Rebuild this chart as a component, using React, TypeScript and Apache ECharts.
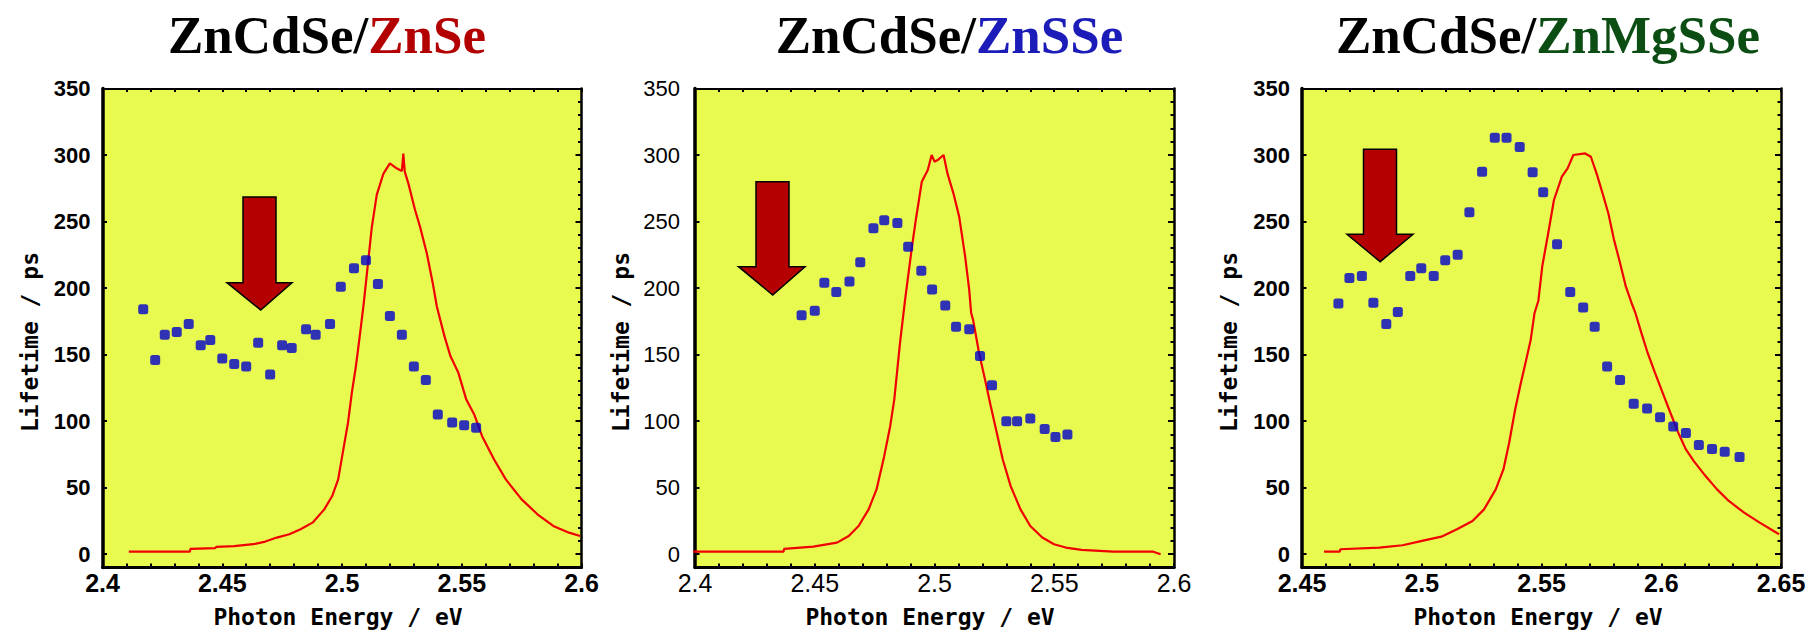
import { useEffect, useRef } from 'react';
import * as echarts from 'echarts';

// ---- text ----
const titleWell = 'ZnCdSe/';
const barrierNames = ['ZnSe', 'ZnSSe', 'ZnMgSSe'];
const xAxisName = 'Photon Energy / eV';
const yAxisName = 'Lifetime / ps';

// ---- axis ranges (eV, ps) ----
const energyRanges: [number, number][] = [
  [2.4, 2.6],
  [2.4, 2.6],
  [2.45, 2.65],
];
const lifetimeMax = 350;
const lifetimeFloor = -10;

// ---- ZnCdSe/ZnSe : lifetime points [eV, ps] ----
const znseLifetime: [number, number][] = [
  [2.417, 184], [2.422, 146], [2.426, 165], [2.431, 167], [2.436, 173],
  [2.441, 157], [2.445, 161], [2.45, 147], [2.455, 143], [2.46, 141],
  [2.465, 159], [2.47, 135], [2.475, 157], [2.479, 155], [2.485, 169],
  [2.489, 165], [2.495, 173], [2.4995, 201], [2.505, 215], [2.51, 221],
  [2.515, 203], [2.52, 179], [2.525, 165], [2.53, 141], [2.535, 131],
  [2.54, 105], [2.546, 99], [2.551, 97], [2.556, 95],
];

// ---- ZnCdSe/ZnSe : PL spectrum [eV, arb.] ----
const znseSpectrum: [number, number][] = [
  [2.411, 2], [2.4365, 2], [2.4367, 4], [2.447, 4.5], [2.4475, 5.5],
  [2.455, 6], [2.4629, 7.5], [2.468, 9.5], [2.4728, 12.5], [2.478, 15],
  [2.4827, 18.7], [2.4877, 23.7], [2.4926, 33.7], [2.4959, 43.7], [2.4984, 56.2],
  [2.5008, 81.2], [2.5025, 98.8], [2.5041, 121.3], [2.5058, 141.2], [2.5074, 163.7],
  [2.5091, 188.8], [2.5124, 245], [2.5145, 270], [2.5173, 286], [2.52, 293.7],
  [2.5228, 290], [2.525, 288], [2.5256, 301], [2.5262, 287.5], [2.5277, 278.7],
  [2.5305, 258.7], [2.5326, 246], [2.5354, 226.2], [2.5379, 203.7], [2.5396, 186.2],
  [2.5428, 163.7], [2.5453, 148.7], [2.5486, 136.3], [2.5519, 116.2], [2.5552, 105],
  [2.5585, 88.7], [2.5635, 71.2], [2.5684, 56.2], [2.575, 41.2], [2.5816, 30],
  [2.5882, 21.2], [2.5948, 16.2], [2.5994, 13.7],
];

// ---- ZnCdSe/ZnSSe : lifetime points ----
const znsseLifetime: [number, number][] = [
  [2.4445, 179.5], [2.45, 183], [2.454, 204], [2.459, 197], [2.4645, 205],
  [2.469, 219.5], [2.4745, 245], [2.479, 251], [2.4845, 249], [2.489, 231],
  [2.4945, 213], [2.499, 199], [2.5045, 187], [2.509, 171], [2.5145, 169],
  [2.519, 149], [2.524, 127], [2.53, 100], [2.5345, 100], [2.54, 102],
  [2.546, 94], [2.5505, 88], [2.5555, 90],
];

// ---- ZnCdSe/ZnSSe : PL spectrum ----
const znsseSpectrum: [number, number][] = [
  [2.3986, 2], [2.437, 2], [2.4372, 4], [2.4494, 5.7], [2.4593, 8.7],
  [2.4642, 13.7], [2.4683, 21.2], [2.4725, 33.7], [2.4758, 48.7], [2.479, 73.7],
  [2.4815, 96.2], [2.4832, 116.2], [2.4856, 158.8], [2.4877, 191], [2.4906, 231.2],
  [2.4922, 251.2], [2.4947, 280], [2.4972, 288.7], [2.4988, 300], [2.5, 295],
  [2.5013, 296.2], [2.5038, 300], [2.5054, 286.2], [2.5079, 271.2], [2.5103, 253.7],
  [2.5128, 223.7], [2.5145, 198.7], [2.5153, 181.3], [2.5161, 176.2], [2.5186, 151.3],
  [2.5211, 131.2], [2.5235, 111.2], [2.526, 91.3], [2.5285, 71.2], [2.5318, 51.2],
  [2.5359, 33.7], [2.54, 21.2], [2.545, 12.5], [2.5499, 7.5], [2.5548, 5],
  [2.5614, 3.2], [2.5746, 2], [2.5911, 2], [2.5944, 0],
];

// ---- ZnCdSe/ZnMgSSe : lifetime points ----
const znmgsseLifetime: [number, number][] = [
  [2.4652, 188.5], [2.4698, 207.5], [2.475, 209], [2.4798, 189], [2.4852, 173],
  [2.49, 182], [2.4952, 209], [2.4998, 215], [2.505, 209], [2.5098, 221],
  [2.515, 225], [2.5199, 257], [2.5252, 287.5], [2.5305, 313], [2.5354, 313],
  [2.5409, 306], [2.5463, 287], [2.5507, 272], [2.5565, 233], [2.562, 197],
  [2.5674, 185.5], [2.5722, 171], [2.5774, 141], [2.5828, 131], [2.5885, 113],
  [2.5941, 109.5], [2.5995, 103], [2.605, 96], [2.6103, 91], [2.6157, 82],
  [2.6212, 79], [2.6265, 77], [2.6327, 73],
];

// ---- ZnCdSe/ZnMgSSe : PL spectrum ----
const znmgsseSpectrum: [number, number][] = [
  [2.4592, 2], [2.4658, 2], [2.466, 3.7], [2.4823, 5], [2.492, 6.7],
  [2.5001, 10], [2.5082, 13.2], [2.5147, 18.7], [2.5212, 25], [2.526, 33.7],
  [2.5309, 48.7], [2.5341, 63.7], [2.5365, 83.8], [2.539, 108.7], [2.5414, 128.8],
  [2.543, 141.2], [2.5455, 161.2], [2.5471, 181.3], [2.5487, 190.5], [2.5503, 216.2],
  [2.5528, 241.2], [2.5552, 266.2], [2.5585, 283.7], [2.5609, 290], [2.5633, 300],
  [2.5682, 301.2], [2.5706, 298.7], [2.573, 286.2], [2.5755, 271.2], [2.5779, 256.2],
  [2.5803, 236.2], [2.5828, 218.8], [2.5852, 201.2], [2.5876, 188.8], [2.5892, 181.3],
  [2.5917, 166.3], [2.5941, 152.5], [2.5974, 136.3], [2.6006, 121.3], [2.6038, 106.3],
  [2.6071, 91.3], [2.6103, 78.7], [2.6136, 70], [2.6185, 58.7], [2.6233, 48.7],
  [2.6282, 40], [2.6346, 31.2], [2.6411, 23.7], [2.6492, 15],
];

const lifetimes = [znseLifetime, znsseLifetime, znmgsseLifetime];
const spectra = [znseSpectrum, znsseSpectrum, znmgsseSpectrum];

// ---- styling ----
const PLOT_BG = '#e8fa50';
const LINE_RED = '#f00000';
const DOT_BLUE = '#0000cc';
const ARROW_RED = '#b40000';
const BARRIER_COLORS = ['#b30000', '#1c1cb8', '#0b4d12'];

const GRID_TOP = 88.5;
const GRID_SIZE = 479;

interface PanelLayout {
  left: number;
  titleX: number;
  xNameX: number;
  yNameX: number;
  tickWeight: 'bold' | 'normal';
  yLabelMargin: number;
  arrow: number[][];
}

const panels: PanelLayout[] = [
  {
    left: 102.5, titleX: 327, xNameX: 338, yNameX: 30, tickWeight: 'bold', yLabelMargin: 12,
    arrow: [[243, 197], [276, 197], [276, 282.7], [292, 282.7], [260.7, 310], [227, 282.7], [243, 282.7]],
  },
  {
    left: 695, titleX: 949.5, xNameX: 930, yNameX: 621, tickWeight: 'normal', yLabelMargin: 15,
    arrow: [[756, 181.7], [789, 181.7], [789, 266.7], [805, 266.7], [772.7, 295], [738.5, 266.7], [756, 266.7]],
  },
  {
    left: 1302, titleX: 1548, xNameX: 1538, yNameX: 1229, tickWeight: 'bold', yLabelMargin: 12,
    arrow: [[1363.5, 149.3], [1396.5, 149.3], [1396.5, 234.3], [1413, 234.3], [1380.2, 261.7], [1347, 234.3], [1363.5, 234.3]],
  },
];

const energyLabel = (v: number) => {
  const k = Math.round(v * 100);
  return k % 5 === 0 ? String(k / 100) : '';
};

function buildOption() {
  const grid: any[] = [];
  const xAxis: any[] = [];
  const yAxis: any[] = [];
  const series: any[] = [];
  const graphic: any[] = [];

  panels.forEach((p, i) => {
    const [xmin, xmax] = energyRanges[i];
    grid.push({
      left: p.left, top: GRID_TOP, width: GRID_SIZE, height: GRID_SIZE,
      show: true, backgroundColor: PLOT_BG, borderWidth: 0,
    });

    // bottom energy axis with labels
    xAxis.push({
      gridIndex: i, type: 'value', position: 'bottom', min: xmin, max: xmax, interval: 0.01,
      axisLine: { onZero: false, lineStyle: { color: '#000', width: 3 } },
      axisTick: { inside: true, length: 4, lineStyle: { color: '#000', width: 2 } },
      axisLabel: {
        margin: 3, fontSize: 25, fontWeight: p.tickWeight, fontFamily: 'Liberation Sans',
        color: '#000', formatter: energyLabel,
      },
      splitLine: { show: false },
    });
    // top mirror axis
    xAxis.push({
      gridIndex: i, type: 'value', position: 'top', min: xmin, max: xmax, interval: 0.01,
      axisLine: { onZero: false, lineStyle: { color: '#000', width: 2 } },
      axisTick: { inside: true, length: 3.5, lineStyle: { color: '#000', width: 2 } },
      axisLabel: { show: false },
      splitLine: { show: false },
    });

    // data axis (hidden)
    yAxis.push({ gridIndex: i, type: 'value', min: lifetimeFloor, max: lifetimeMax, show: false });
    // left labelled axis, inverted so ticks land on multiples of 50
    yAxis.push({
      gridIndex: i, type: 'value', position: 'left', inverse: true,
      min: -lifetimeMax, max: -lifetimeFloor, interval: 50,
      axisLine: { onZero: false, lineStyle: { color: '#000', width: 3.5 } },
      axisTick: { inside: true, length: 4.5, lineStyle: { color: '#000', width: 2 } },
      axisLabel: {
        margin: p.yLabelMargin, fontSize: 22, fontWeight: p.tickWeight, fontFamily: 'Liberation Sans',
        color: '#000', padding: [0, 0, 7, 0],
        formatter: (v: number) => (v <= 0 ? String(Math.round(-v)) : ''),
      },
      splitLine: { show: false },
    });
    // right mirror axis: minor ticks every 10
    yAxis.push({
      gridIndex: i, type: 'value', position: 'right',
      min: lifetimeFloor, max: lifetimeMax, interval: 10,
      axisLine: { onZero: false, lineStyle: { color: '#000', width: 2.5 } },
      axisTick: { inside: true, length: 3.5, lineStyle: { color: '#000', width: 2 } },
      axisLabel: { show: false },
      splitLine: { show: false },
    });
    // right mirror axis: longer ticks every 50
    yAxis.push({
      gridIndex: i, type: 'value', position: 'right', inverse: true,
      min: -lifetimeMax, max: -lifetimeFloor, interval: 50,
      axisLine: { show: false, onZero: false },
      axisTick: { inside: true, length: 6, lineStyle: { color: '#000', width: 2 } },
      axisLabel: { show: false },
      splitLine: { show: false },
    });

    series.push({
      type: 'line', xAxisIndex: 2 * i, yAxisIndex: 4 * i, data: spectra[i],
      showSymbol: false, symbol: 'none', lineStyle: { color: LINE_RED, width: 2.2 }, z: 2,
    });
    series.push({
      type: 'scatter', xAxisIndex: 2 * i, yAxisIndex: 4 * i, data: lifetimes[i],
      symbol: 'roundRect', symbolSize: 10, itemStyle: { color: DOT_BLUE }, z: 3,
    });

    // panel title
    graphic.push({
      type: 'text', x: p.titleX, y: 35,
      style: {
        text: `{k|${titleWell}}{c|${barrierNames[i]}}`,
        align: 'center', verticalAlign: 'middle',
        fontFamily: 'Liberation Serif', fontWeight: 'bold', fontSize: 53,
        rich: {
          k: { fill: '#000', fontFamily: 'Liberation Serif', fontWeight: 'bold', fontSize: 53 },
          c: { fill: BARRIER_COLORS[i], fontFamily: 'Liberation Serif', fontWeight: 'bold', fontSize: 53 },
        },
      },
    });
    // axis names
    graphic.push({
      type: 'text', x: p.xNameX, y: 617,
      style: {
        text: xAxisName, align: 'center', verticalAlign: 'middle',
        fontFamily: 'DejaVu Sans Mono', fontWeight: 'bold', fontSize: 23, fill: '#000',
      },
    });
    graphic.push({
      type: 'text', x: p.yNameX, y: 342, rotation: Math.PI / 2,
      style: {
        text: yAxisName, align: 'center', verticalAlign: 'middle',
        fontFamily: 'DejaVu Sans Mono', fontWeight: 'bold', fontSize: 23, fill: '#000',
      },
    });
    // marker arrow
    graphic.push({
      type: 'polygon', z: 10,
      shape: { points: p.arrow },
      style: { fill: ARROW_RED, stroke: '#000', lineWidth: 1.5 },
    });
  });

  return {
    animation: false,
    backgroundColor: '#fff',
    grid,
    xAxis,
    yAxis,
    series,
    graphic,
  };
}

export default function App() {
  const ref = useRef<HTMLDivElement>(null);

  useEffect(() => {
    document.body.style.margin = '0';
    if (!ref.current) return;
    const chart = echarts.init(ref.current, undefined, { renderer: 'svg' });
    chart.setOption(buildOption() as any);
    return () => chart.dispose();
  }, []);

  return <div ref={ref} style={{ width: 1810, height: 633 }} />;
}
